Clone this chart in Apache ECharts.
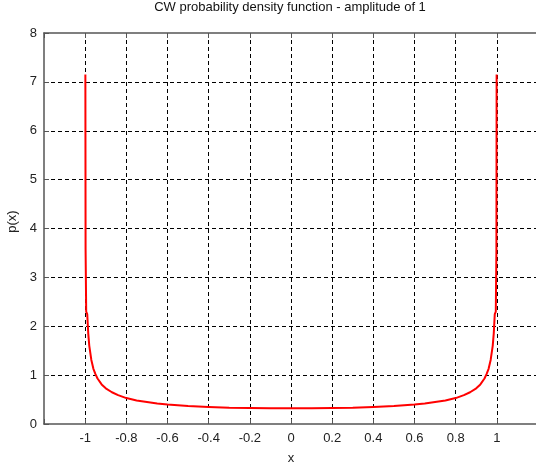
<!DOCTYPE html>
<html>
<head>
<meta charset="utf-8">
<script src="https://cdn.jsdelivr.net/npm/echarts@6/dist/echarts.min.js"></script>
<style>
html,body{margin:0;padding:0;background:#fff;}
#chart{width:536px;height:463px;}
</style>
</head>
<body>
<div id="chart"></div>
<script>
// x positions (left half; curve is mirrored on the right)
const xLeft = [-0.999, -0.998, -0.995, -0.99, -0.985, -0.98, -0.97, -0.96, -0.95, -0.94, -0.92, -0.90, -0.87, -0.84, -0.80, -0.75, -0.70, -0.65, -0.60, -0.50, -0.40, -0.30, -0.20, -0.10, 0.0];
const yLeft = [7.15, 3.58, 2.30, 2.25, 1.85, 1.60, 1.31, 1.13, 1.02, 0.93, 0.81, 0.73, 0.65, 0.59, 0.53, 0.48, 0.45, 0.42, 0.40, 0.37, 0.35, 0.33, 0.325, 0.32, 0.32];
const xRight = [0.10, 0.20, 0.30, 0.40, 0.50, 0.60, 0.65, 0.70, 0.75, 0.80, 0.84, 0.87, 0.90, 0.92, 0.94, 0.95, 0.96, 0.97, 0.98, 0.985, 0.99, 0.995, 0.998, 0.999];
const yRight = [0.32, 0.325, 0.33, 0.35, 0.37, 0.40, 0.42, 0.45, 0.48, 0.53, 0.59, 0.65, 0.73, 0.81, 0.93, 1.02, 1.13, 1.31, 1.60, 1.85, 2.25, 2.30, 3.58, 7.15];
const xTicks = [-1, -0.8, -0.6, -0.4, -0.2, 0, 0.2, 0.4, 0.6, 0.8, 1];
const yTicks = [0, 1, 2, 3, 4, 5, 6, 7, 8];

const pts = [];
xLeft.forEach((x, i) => pts.push([x, yLeft[i]]));
xRight.forEach((x, i) => pts.push([x, yRight[i]]));

const FONT = "'Liberation Sans', Arial, sans-serif";
const axisColor = '#555';

const chart = echarts.init(document.getElementById('chart'), null, {renderer: 'canvas'});
chart.setOption({
  animation: false,
  backgroundColor: '#fff',
  title: {
    text: 'CW probability density function - amplitude of 1',
    left: 290, textAlign: 'center', top: 1, padding: 0,
    textStyle: {fontFamily: FONT, fontSize: 13, fontWeight: 'normal', color: '#111'}
  },
  grid: {left: 44, top: 33, width: 494, height: 391, containLabel: false, outerBoundsMode: 'none'},
  xAxis: [{
    type: 'value', min: -1.2, max: 1.2, interval: 0.2,
    name: 'x', nameLocation: 'middle', nameGap: 28,
    nameTextStyle: {fontFamily: FONT, fontSize: 13, color: '#222'},
    axisLine: {show: true, onZero: false, lineStyle: {color: axisColor, width: 1.5}},
    axisTick: {show: true, inside: true, length: 5, lineStyle: {color: axisColor}},
    axisLabel: {
      margin: 8, fontFamily: FONT, fontSize: 13, color: '#222',
      formatter: function (v) {
        const r = Math.round(v * 10) / 10;
        return xTicks.indexOf(r) >= 0 ? String(r) : '';
      }
    },
    splitLine: {show: true, showMinLine: false, showMaxLine: false, lineStyle: {color: '#000', type: [4, 3], width: 1}}
  }, {
    type: 'value', position: 'top', min: -1.2, max: 1.2, interval: 0.2,
    axisLine: {show: true, onZero: false, lineStyle: {color: axisColor, width: 1.5}},
    axisTick: {show: true, inside: true, length: 5, lineStyle: {color: axisColor}},
    axisLabel: {show: false}, splitLine: {show: false}
  }],
  yAxis: {
    type: 'value', min: 0, max: 8, interval: 1,
    name: 'p(x)', nameLocation: 'middle', nameGap: 22,
    nameTextStyle: {fontFamily: FONT, fontSize: 13, color: '#222', padding: [0, 0, 0, 14]},
    axisLine: {show: true, onZero: false, lineStyle: {color: axisColor, width: 1.5}},
    axisTick: {show: true, inside: true, length: 5, lineStyle: {color: axisColor}},
    axisLabel: {margin: 7, fontFamily: FONT, fontSize: 13, color: '#222',
      formatter: function (v) { return yTicks.indexOf(v) >= 0 ? String(v) : ''; }},
    splitLine: {show: true, showMinLine: false, showMaxLine: false, lineStyle: {color: '#000', type: [4, 3], width: 1}}
  },
  series: [{
    type: 'line', data: pts, xAxisIndex: 0, showSymbol: false, symbol: 'none',
    lineStyle: {color: '#ff0000', width: 2}, smooth: false, clip: true
  }]
});
</script>
</body>
</html>
